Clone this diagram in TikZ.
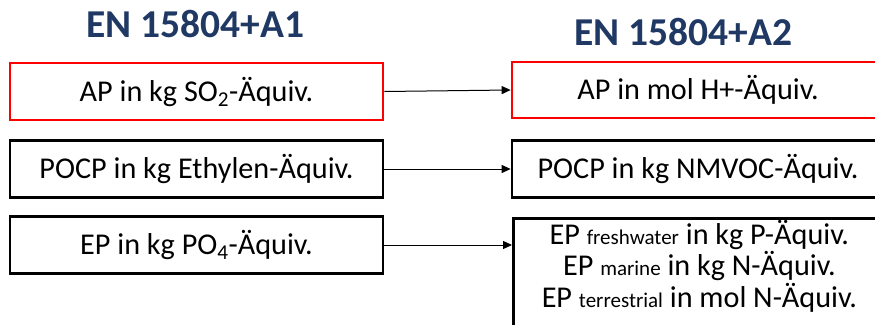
\documentclass[tikz,border=0pt]{standalone}
\usepackage{fontspec}
\setmainfont{Carlito}
\usetikzlibrary{arrows.meta}
\definecolor{titleblue}{RGB}{31,56,100}
\begin{document}
\begin{tikzpicture}[x=1pt,y=-1pt,
  boxA/.style={draw=black,line width=2.7pt,minimum width=373pt,minimum height=57pt,inner sep=0pt,font=\fontsize{30.2}{34}\selectfont},
  boxred/.style={boxA,draw=red},
  conn/.style={-{Triangle[length=9pt,width=8pt]},line width=1pt},
  ttl/.style={font=\fontsize{39.5}{44}\selectfont\bfseries,text=titleblue,anchor=base},
  lined/.style={anchor=base,font=\fontsize{30.2}{34}\selectfont}]
\useasboundingbox (0,0) rectangle (875,324);
\clip (0,0) rectangle (875,324);
\node[ttl] (t1) at (195,37) {EN 15804+A1};
\node[ttl] (t2) at (683,45) {EN 15804+A2};
\node[boxred] (l1) at (196.5,91.5) {AP in kg SO\textsubscript{2}-Äquiv.};
\node[boxA] (l2) at (196.5,169) {POCP in kg Ethylen-Äquiv.};
\node[boxA] (l3) at (196.5,245) {EP in kg PO\textsubscript{4}-Äquiv.};
\node[boxred,minimum width=372pt,minimum height=56pt] (r1) at (698,90) {AP in mol H+-Äquiv.};
\node[boxA,minimum width=372pt] (r2) at (698,169) {POCP in kg NMVOC-Äquiv.};
\node[boxA,minimum width=372pt,minimum height=130pt,anchor=north west] (r3) at (512,217) {};
\newcommand{\smallw}[1]{{\fontsize{21}{24}\selectfont #1}}
\node[lined] (e1) at ([yshift=-27pt]r3.north) {EP \smallw{freshwater} in kg P-Äquiv.};
\node[lined] (e2) at ([yshift=-58pt]r3.north) {EP \smallw{marine} in kg N-Äquiv.};
\node[lined] (e3) at ([yshift=-90pt]r3.north) {EP \smallw{terrestrial} in mol N-Äquiv.};
\draw[conn] (l1.east) -- (r1.west);
\draw[conn] (l2.east) -- (r2.west);
\draw[conn] (l3.east) -- (l3.east -| r3.west);
\end{tikzpicture}
\end{document}
